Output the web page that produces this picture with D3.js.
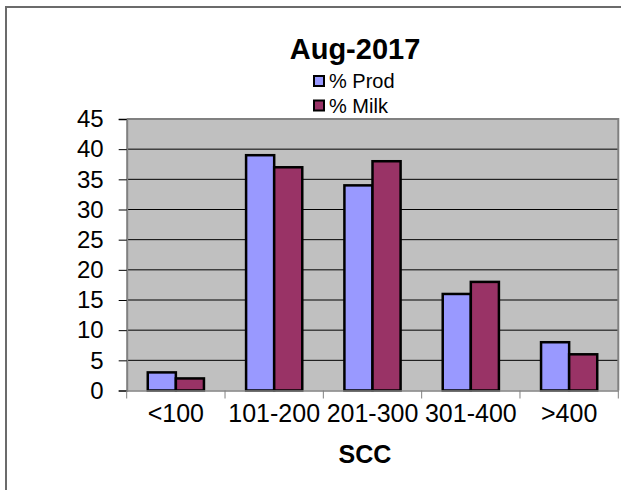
<!DOCTYPE html>
<html>
<head>
<meta charset="utf-8">
<script src="https://cdn.jsdelivr.net/npm/d3@7"></script>
<style>
  body { margin: 0; background: #fff; }
  svg { display: block; font-family: "Liberation Sans", Arial, sans-serif; }
</style>
</head>
<body>
<div id="chart"></div>
<script>
let categories = ["<100", "101-200", "201-300", "301-400", ">400"];
let seriesNames = ["% Prod", "% Milk"];
let prodValues = [3, 39, 34, 16, 8];
let milkValues = [2, 37, 38, 18, 6];
let yTicks = [0, 5, 10, 15, 20, 25, 30, 35, 40, 45];

let colors = ["#9999ff", "#993366"];

let width = 621,
    height = 490;

let plot = { left: 126.7, right: 618.3, top: 119, bottom: 390.5 };

let svg = d3.select("#chart")
  .append("svg")
    .attr("width", width)
    .attr("height", height);

// outer chart border (cut off at right and bottom)
svg.append("rect")
    .attr("x", 6).attr("y", 7)
    .attr("width", 700).attr("height", 600)
    .attr("fill", "#fff")
    .attr("stroke", "#6b6b6b")
    .attr("stroke-width", 2);

let x = d3.scaleBand()
    .domain(categories)
    .range([plot.left, plot.right])
    .padding(0);

let x1 = d3.scaleBand()
    .domain(seriesNames)
    .range([0, x.bandwidth()])
    .paddingInner(0)
    .paddingOuter(0.75);

let y = d3.scaleLinear()
    .domain([0, 45])
    .range([plot.bottom, plot.top]);

// plot area
svg.append("rect")
    .attr("x", plot.left).attr("y", plot.top)
    .attr("width", plot.right - plot.left)
    .attr("height", plot.bottom - plot.top)
    .attr("fill", "#c0c0c0");

// gridlines
svg.append("g")
  .selectAll("line")
  .data(yTicks.filter(d => d > 0 && d < 45))
  .enter().append("line")
    .attr("x1", plot.left).attr("x2", plot.right)
    .attr("y1", d => y(d)).attr("y2", d => y(d))
    .attr("stroke", "#000")
    .attr("stroke-width", 1);

// plot border top & right
svg.append("path")
    .attr("d", `M${plot.left},${plot.top}H${plot.right}V${plot.bottom}`)
    .attr("fill", "none")
    .attr("stroke", "#808080")
    .attr("stroke-width", 2);

// bars
let rows = categories.map((c, i) => ({
  category: c,
  values: [
    { key: seriesNames[0], value: prodValues[i] },
    { key: seriesNames[1], value: milkValues[i] }
  ]
}));

svg.append("g")
  .selectAll("g")
  .data(rows)
  .enter().append("g")
    .attr("transform", d => `translate(${x(d.category)},0)`)
  .selectAll("rect")
  .data(d => d.values)
  .enter().append("rect")
    .attr("x", d => x1(d.key))
    .attr("y", d => y(d.value))
    .attr("width", x1.bandwidth())
    .attr("height", d => y(0) - y(d.value))
    .attr("fill", (d, i) => colors[i])
    .attr("stroke", "#000")
    .attr("stroke-width", 2.5);

// y axis
let yAxis = svg.append("g")
    .attr("transform", `translate(${plot.left},0)`)
    .call(d3.axisLeft(y).tickValues(yTicks).tickSize(8).tickPadding(15));
yAxis.select(".domain").attr("stroke", "#808080").attr("stroke-width", 2);
yAxis.selectAll(".tick line").attr("stroke", "#000");
yAxis.selectAll("text")
    .attr("font-family", "Liberation Sans, Arial, sans-serif")
    .attr("font-size", 24)
    .attr("fill", "#000");

// x axis
let xAxis = svg.append("g")
    .attr("transform", `translate(0,${plot.bottom})`)
    .call(d3.axisBottom(x).tickSize(0).tickPadding(14));
xAxis.select(".domain").attr("stroke", "#808080").attr("stroke-width", 1.5);
xAxis.selectAll("text")
    .attr("font-family", "Liberation Sans, Arial, sans-serif")
    .attr("font-size", 25)
    .attr("fill", "#000");

// x tick marks at band boundaries
svg.append("g")
  .selectAll("line")
  .data(categories.concat(["end"]))
  .enter().append("line")
    .attr("x1", (d, i) => i < categories.length ? x(d) : x.range()[1])
    .attr("x2", (d, i) => i < categories.length ? x(d) : x.range()[1])
    .attr("y1", plot.bottom).attr("y2", plot.bottom + 8)
    .attr("stroke", "#808080")
    .attr("stroke-width", 1);

// axis title
svg.append("text")
    .attr("x", 365).attr("y", 463)
    .attr("text-anchor", "middle")
    .attr("font-size", 25)
    .attr("font-weight", "bold")
    .text("SCC");

// chart title
svg.append("text")
    .attr("x", 355).attr("y", 59)
    .attr("text-anchor", "middle")
    .attr("font-size", 29)
    .attr("font-weight", "bold")
    .text("Aug-2017");

// legend
let legend = svg.append("g")
  .selectAll("g")
  .data(seriesNames)
  .enter().append("g")
    .attr("transform", (d, i) => `translate(314,${76 + i * 24.5})`);

legend.append("rect")
    .attr("width", 10).attr("height", 10)
    .attr("fill", (d, i) => colors[i])
    .attr("stroke", "#000")
    .attr("stroke-width", 2);

legend.append("text")
    .attr("x", 15).attr("y", 12)
    .attr("font-size", 20)
    .text(d => d);
</script>
</body>
</html>
